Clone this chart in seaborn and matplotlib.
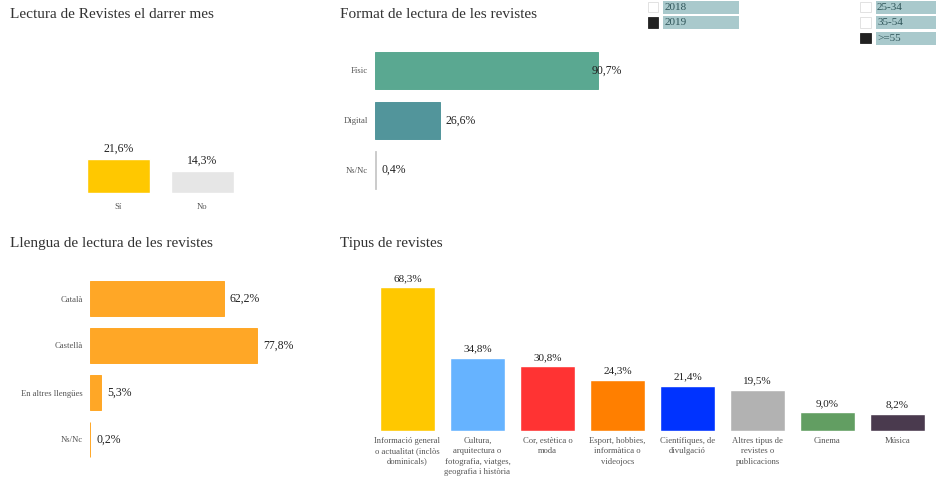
import matplotlib
matplotlib.use("Agg")
import matplotlib.pyplot as plt
import seaborn as sns
import pandas as pd
from matplotlib.patches import Rectangle

# Data
lectura_cats = ["Sí", "No"]
lectura_vals = [21.6, 14.3]
lectura_colors = ["#FFC800", "#E6E6E6"]

format_cats = ["Físic", "Digital", "Ns/Nc"]
format_vals = [90.7, 26.6, 0.4]
format_colors = ["#5AA891", "#52959B", "#CCCCCC"]

llengua_cats = ["Català", "Castellà", "En altres llengües", "Ns/Nc"]
llengua_vals = [62.2, 77.8, 5.3, 0.2]
llengua_color = "#FFA726"

tipus_cats = [
    "Informació general\no actualitat (inclòs\ndominicals)",
    "Cultura,\narquitectura o\nfotografia, viatges,\ngeografia i història",
    "Cor, estètica o\nmoda",
    "Esport, hobbies,\ninformàtica o\nvideojocs",
    "Científiques, de\ndivulgació",
    "Altres tipus de\nrevistes o\npublicacions",
    "Cinema",
    "Música",
]
tipus_vals = [68.3, 34.8, 30.8, 24.3, 21.4, 19.5, 9.0, 8.2]
tipus_colors = ["#FFC800", "#66B3FF", "#FF3333", "#FF7F00",
                "#0033FF", "#B2B2B2", "#629E62", "#4A3A4E"]

legend_years = ["2018", "2019"]
legend_years_on = [False, True]
legend_ages = ["25-34", "35-54", ">=55"]
legend_ages_on = [False, False, True]

sns.set_style("white")
plt.rcParams["font.family"] = ["Liberation Serif", "DejaVu Serif"]

W, H = 936, 478
fig = plt.figure(figsize=(W / 100, H / 100), dpi=100)


def px_axes(x0, y0, x1, y1):
    return fig.add_axes([x0 / W, 1 - y1 / H, (x1 - x0) / W, (y1 - y0) / H])


def fmt(v):
    return f"{v:.1f}%".replace(".", ",")


def clean(ax):
    sns.despine(ax=ax, left=True, bottom=True)
    ax.set_xlabel("")
    ax.set_ylabel("")
    ax.tick_params(length=0, colors="#555555", labelsize=6.2)


def outline_bars(ax):
    # keep the very thin bars (Ns/Nc) visible as a hairline
    for p in ax.patches:
        p.set_edgecolor(p.get_facecolor())
        p.set_linewidth(0.7)


TITLE = dict(fontsize=11, color="#333333", ha="left", va="center")

# Lectura de revistes el darrer mes
ax1 = px_axes(76.5, 36, 244.5, 193)
df1 = pd.DataFrame({"cat": lectura_cats, "val": lectura_vals})
sns.barplot(data=df1, x="cat", y="val", hue="cat", palette=lectura_colors,
            width=0.75, saturation=1, legend=False, ax=ax1)
ax1.set_ylim(0, 100)
ax1.set_yticks([])
clean(ax1)
ax1.tick_params(axis="x", pad=7)
for i, v in enumerate(lectura_vals):
    ax1.annotate(fmt(v), (i, v), xytext=(0, 3), textcoords="offset points",
                 ha="center", va="bottom", fontsize=8.5, color="#222222")
fig.text(10 / W, 1 - 14 / H, "Lectura de Revistes el darrer mes", **TITLE)

# Format de lectura de les revistes
ax2 = px_axes(375, 45.5, 621, 195)
df2 = pd.DataFrame({"cat": format_cats, "val": format_vals})
sns.barplot(data=df2, y="cat", x="val", hue="cat", palette=format_colors,
            width=0.75, saturation=1, legend=False, orient="h", ax=ax2)
ax2.set_xlim(0, 100)
ax2.set_xticks([])
clean(ax2)
outline_bars(ax2)
ax2.tick_params(axis="y", pad=5)
for i, v in enumerate(format_vals):
    ax2.text(min(v + 2.2, 88), i, fmt(v), ha="left", va="center",
             fontsize=8.5, color="#222222")
fig.text(340 / W, 1 - 14 / H, "Format de lectura de les revistes", **TITLE)

# Llengua de lectura de les revistes
ax3 = px_axes(90, 275, 305, 463)
df3 = pd.DataFrame({"cat": llengua_cats, "val": llengua_vals})
sns.barplot(data=df3, y="cat", x="val", color=llengua_color,
            width=0.75, saturation=1, orient="h", ax=ax3)
ax3.set_xlim(0, 100)
ax3.set_xticks([])
clean(ax3)
outline_bars(ax3)
ax3.tick_params(axis="y", pad=5)
for i, v in enumerate(llengua_vals):
    ax3.text(v + 2.6, i, fmt(v), ha="left", va="center",
             fontsize=8.5, color="#222222")
fig.text(10 / W, 1 - 244 / H, "Llengua de lectura de les revistes", **TITLE)

# Tipus de revistes
ax4 = px_axes(372.5, 268, 932.5, 431)
df4 = pd.DataFrame({"cat": tipus_cats, "val": tipus_vals})
sns.barplot(data=df4, x="cat", y="val", hue="cat", palette=tipus_colors,
            width=0.786, saturation=1, legend=False, ax=ax4)
ax4.set_ylim(0, 77.3)
ax4.set_yticks([])
clean(ax4)
ax4.tick_params(axis="x", pad=4)
for lbl in ax4.get_xticklabels():
    lbl.set_linespacing(1.42)
    lbl.set_verticalalignment("top")
for i, v in enumerate(tipus_vals):
    ax4.annotate(fmt(v), (i, v), xytext=(0, 3), textcoords="offset points",
                 ha="center", va="bottom", fontsize=8, color="#222222")
fig.text(340 / W, 1 - 244 / H, "Tipus de revistes", **TITLE)

# Legend-like filter controls at the top right
ov = fig.add_axes([0, 0, 1, 1], zorder=5)
ov.set_xlim(0, W)
ov.set_ylim(H, 0)
ov.axis("off")


def filter_block(x, labels, states, label_w, y0):
    for k, (lab, on) in enumerate(zip(labels, states)):
        y = y0 + k * 15.5
        ov.add_patch(Rectangle((x, y + 1), 10.5, 10.5,
                               facecolor="#222222" if on else "white",
                               edgecolor="#222222" if on else "#DDDDDD", lw=0.6))
        ov.add_patch(Rectangle((x + 15.5, y), label_w, 13,
                               facecolor="#A9C9CC", edgecolor="none"))
        ov.text(x + 17, y + 6.8, lab, ha="left", va="center",
                fontsize=8, color="#2F5559")


filter_block(647.5, legend_years, legend_years_on, 76, 0.5)
filter_block(860, legend_ages, legend_ages_on, 62, 0.5)

fig.savefig("out.png", dpi=100)
